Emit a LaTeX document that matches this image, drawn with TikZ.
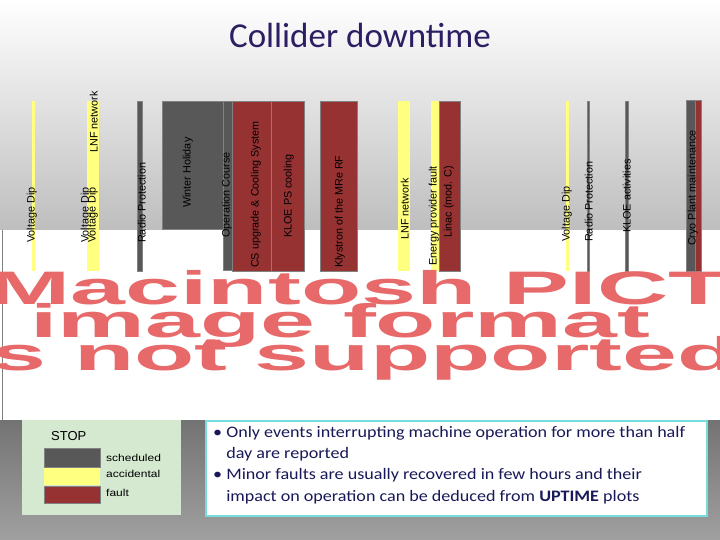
\documentclass[tikz,border=0pt]{standalone}
\usepackage{fontspec}
\setmainfont{Liberation Sans}
\newfontfamily\calfont{Carlito}
\definecolor{cSched}{RGB}{88,88,88}
\definecolor{cAcc}{RGB}{255,255,128}
\definecolor{cFlt}{RGB}{150,50,50}
\definecolor{cEdge}{RGB}{130,130,130}
\definecolor{cLeg}{RGB}{213,232,208}
\definecolor{cPict}{RGB}{232,105,105}
\definecolor{cTitle}{RGB}{45,30,100}
\definecolor{cNote}{RGB}{25,25,90}
\definecolor{cCyan}{RGB}{120,220,220}
\definecolor{cTopG}{RGB}{190,190,190}
\definecolor{cBotA}{RGB}{115,115,115}
\definecolor{cBotB}{RGB}{160,160,160}
\begin{document}
\begin{tikzpicture}[x=1pt,y=-1pt,
  sched/.style={fill=cSched,draw=cEdge,line width=0.4pt},
  acc/.style={fill=cAcc},
  flt/.style={fill=cFlt,draw=cEdge,line width=0.4pt},
  lab/.style={rotate=90,anchor=south west,inner sep=0pt,font=\fontsize{10.8}{10.8}\selectfont},
  pict/.style={font=\fontsize{47}{47}\selectfont\bfseries,text=cPict,inner sep=0pt,anchor=base west,xscale=2.1}]
\useasboundingbox (0,0) rectangle (720,540);
\clip (0,0) rectangle (720,540);
\shade[top color=white,bottom color=cTopG] (0,0) rectangle (720,230);
\fill[white] (0,230) rectangle (720,420);
\draw[gray] (2,230) -- (2,420);
\shade[top color=cBotA,bottom color=cBotB] (0,420) rectangle (720,540);
\node[font=\calfont\fontsize{35}{35}\selectfont,text=cTitle] (title) at (360,35) {Collider downtime};
% bars
\fill[acc] (32,101) rectangle (35,271);
\fill[acc] (87,101) rectangle (99,271);
\fill[sched] (137,101) rectangle (142,271);
\fill[sched] (162,101) rectangle (223,229);
\fill[sched] (223,101) rectangle (232,270);
\fill[flt] (232,101) rectangle (271,271);
\fill[flt] (271,101) rectangle (304,271);
\fill[flt] (320,101) rectangle (357,271);
\fill[acc] (398,101) rectangle (410,271);
\fill[acc] (431,101) rectangle (439,271);
\fill[flt] (439,101) rectangle (460,271);
\fill[acc] (566,101) rectangle (569,271);
\fill[sched] (587,101) rectangle (589,271);
\fill[sched] (625,101) rectangle (628,271);
\fill[sched] (686,100) rectangle (695,271);
\fill[flt] (695,100) rectangle (701,271);
% labels
\node[lab] (l1) at (37,243) {Voltage Dip};
\node[lab] (l2) at (91,243) {Voltage Dip};
\node[lab] (l3) at (98,243) {Voltage Dip};
\node[lab] (l4) at (98,153) {LNF network};
\node[lab] (l5) at (146,243) {Radio Protection};
\node[lab] (l6) at (193,208) {Winter Holiday};
\node[lab] (l7) at (232,238) {Operation Course};
\node[lab] (l8) at (261,268) {CS upgrade \& Cooling System};
\node[lab] (l9) at (294,238) {KLOE PS cooling};
\node[lab] (l10) at (345,268) {Klystron of the MRe RF};
\node[lab] (l11) at (409,240) {LNF network};
\node[lab] (l12) at (439,266) {Energy provider fault};
\node[lab] (l13) at (454,238) {Linac (mod. C)};
\node[lab] (l14) at (572,242) {Voltage Dip};
\node[lab] (l15) at (593,242) {Radio Protection};
\node[lab] (l16) at (631,233) {KLOE activities};
\node[lab] (l17) at (698,246) {Cryo Plant maintenance};
% PICT placeholder
\node[pict] (p1) at (-12,304) {Macintosh PICT};
\node[pict] (p2) at (30,337) {image format};
\node[pict] (p3) at (-36,370) {is not supported};
% legend
\fill[cLeg] (22,420) rectangle (181,515);
\node[anchor=west,font=\fontsize{13}{13}\selectfont,inner sep=0pt] (stop) at (51,436) {STOP};
\fill[sched] (44,448) rectangle (100,467);
\fill[acc] (44,468) rectangle (100,485);
\fill[flt] (44,486) rectangle (100,503);
\node[anchor=west,font=\fontsize{10}{10}\selectfont,inner sep=0pt,xscale=1.2] (s) at (106,458) {scheduled};
\node[anchor=west,font=\fontsize{10}{10}\selectfont,inner sep=0pt,xscale=1.2] (a) at (106,474) {accidental};
\node[anchor=west,font=\fontsize{10}{10}\selectfont,inner sep=0pt,xscale=1.2] (f) at (106,493) {fault};
% notes
\draw[draw=cCyan,line width=1.5pt,fill=white] (206,421) rectangle (707,516);
\node[anchor=north west,align=left,inner sep=0pt,font=\calfont\fontsize{16}{21.3}\selectfont,text=cNote,xscale=1.13] (notes) at (213,426)
{• Only events interrupting machine operation for more than half\\
\hphantom{• }day are reported\\
• Minor faults are usually recovered in few hours and their\\
\hphantom{• }impact on operation can be deduced from \textbf{UPTIME} plots};
\end{tikzpicture}
\end{document}
